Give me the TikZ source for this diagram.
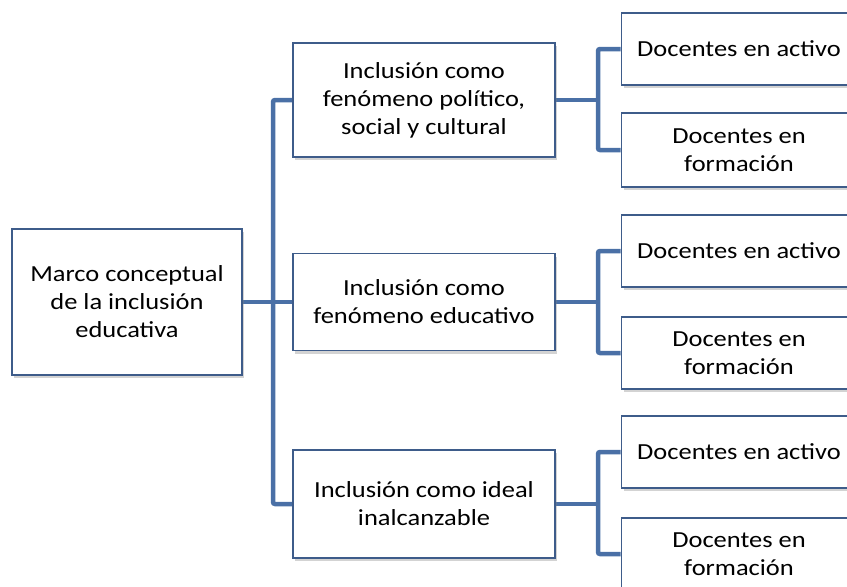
\documentclass[tikz,border=0pt]{standalone}
\usepackage{fontspec}
\setmainfont{Carlito}[FakeStretch=1.15]
\usepackage{tikz}
\usetikzlibrary{calc,shadows,backgrounds}

\definecolor{boxline}{RGB}{62,92,138}
\definecolor{linkblue}{RGB}{74,112,166}

\tikzset{
  caja/.style={draw=boxline, line width=1.6pt, fill=white, align=center,
    inner sep=0pt, font=\fontsize{23}{28}\selectfont,
    drop shadow={opacity=0.35, shadow xshift=2pt, shadow yshift=-3pt}},
  enlace/.style={draw=linkblue, line width=4.5pt, rounded corners=2pt}
}

\begin{document}
\begin{tikzpicture}[x=1pt,y=-1pt]
			\useasboundingbox (0,0) rectangle (847,587);
			\clip (0,0) rectangle (847,587);
			
			\node[caja, minimum width=230, minimum height=146] (marco) at (127,302) {Marco conceptual\\de la inclusión\\educativa};
			
			\node[caja, minimum width=262, minimum height=114] (p1) at (424,100) {Inclusión como\\fenómeno político,\\social y cultural};
			\node[caja, minimum width=262, minimum height=97] (p2) at (424,302) {Inclusión como\\fenómeno educativo};
			\node[caja, minimum width=262, minimum height=108] (p3) at (424,504) {Inclusión como ideal\\inalcanzable};
			
			\node[caja, minimum width=235, minimum height=72] (a1) at (739,49) {Docentes en activo};
			\node[caja, minimum width=235, minimum height=74] (f1) at (739,150) {Docentes en\\formación};
			\node[caja, minimum width=235, minimum height=72] (a2) at (739,251) {Docentes en activo};
			\node[caja, minimum width=235, minimum height=72] (f2) at (739,353) {Docentes en\\formación};
			\node[caja, minimum width=235, minimum height=72] (a3) at (739,452) {Docentes en activo};
			\node[caja, minimum width=235, minimum height=72] (f3) at (739,554) {Docentes en\\formación};
			
			\coordinate (t0) at (273,302);
			\coordinate (t1) at (598,100);
			\coordinate (t2) at (598,302);
			\coordinate (t3) at (598,504);
			
			\begin{scope}[on background layer]
			\draw[enlace] (marco.east) -- (p2.west);
			\draw[enlace] (p1.west) -| (t0) |- (p3.west);
			
			\draw[enlace] (p1.east) -- (t1);
			\draw[enlace] (a1.west) -| (t1) |- (f1.west);
			\draw[enlace] (p2.east) -- (t2);
			\draw[enlace] (a2.west) -| (t2) |- (f2.west);
			\draw[enlace] (p3.east) -- (t3);
			\draw[enlace] (a3.west) -| (t3) |- (f3.west);
			\end{scope}
		\end{tikzpicture}
\end{document}
